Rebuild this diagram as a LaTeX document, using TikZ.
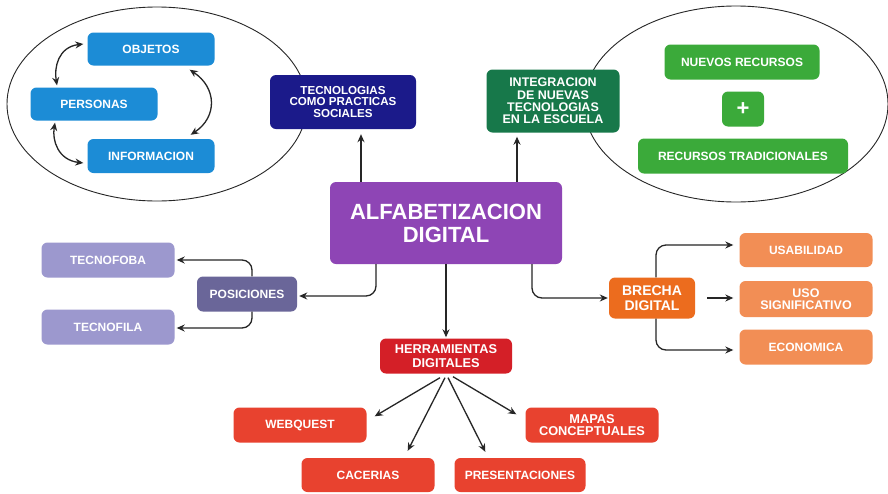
\documentclass[tikz,border=0pt]{standalone}
\usepackage{fontspec}
\setmainfont{Liberation Sans}
\usetikzlibrary{calc,arrows.meta}
\definecolor{cblue}{HTML}{1C8CD6}
\definecolor{cnavy}{HTML}{1B1A8A}
\definecolor{cdgreen}{HTML}{17784A}
\definecolor{cpurple}{HTML}{8E45B5}
\definecolor{cbgreen}{HTML}{3BAA3A}
\definecolor{clav}{HTML}{9C98CE}
\definecolor{cpos}{HTML}{6A6699}
\definecolor{corange}{HTML}{EC6C1E}
\definecolor{clorange}{HTML}{F28E55}
\definecolor{chred}{HTML}{D41F27}
\definecolor{cred}{HTML}{E8422F}
\begin{document}
\begin{tikzpicture}[x=1pt,y=-1pt,
  box/.style={rounded corners=6pt, text=white, align=center, inner sep=0pt,
    font=\bfseries\fontsize{12}{13}\selectfont, minimum width=133pt, minimum height=35pt},
  arr/.style={-{Stealth[length=8pt,width=7pt]}, line width=1.3pt, draw=black!85},
  darr/.style={{Stealth[length=8pt,width=7pt]}-{Stealth[length=8pt,width=7pt]}, line width=1.3pt, draw=black!85},
  oval/.style={draw=black!85, line width=0.9pt}
]
\useasboundingbox[fill=white] (0,0) rectangle (888,493);

% surrounding ovals
\draw[oval] (157,104) ellipse [x radius=150pt, y radius=97pt];
\draw[oval] (736,104) ellipse [x radius=152pt, y radius=98pt];

% left oval contents
\node[box, fill=cblue, minimum width=127pt, minimum height=33pt] (obj) at (151,49) {OBJETOS};
\node[box, fill=cblue, minimum width=127pt, minimum height=33pt] (pers) at (94,104) {PERSONAS};
\node[box, fill=cblue, minimum width=127pt, minimum height=34pt] (info) at (151,156) {INFORMACION};

\draw[darr] ($(obj.west)+(-4,-5)$) .. controls +(-25,3) and +(-3,-18) .. ($(pers.north)+(-37,-2)$);
\draw[darr] ($(pers.south)+(-39,2)$) .. controls +(-3,18) and +(-25,-3) .. ($(info.west)+(-4,7)$);
\draw[darr] ($(obj.south east)+(-25,4)$) .. controls +(27,18) and +(27,-18) .. ($(info.north east)+(-24,-4)$);

% right oval contents
\node[box, fill=cbgreen, minimum width=155pt] (nuevos) at (742,62) {NUEVOS RECURSOS};
\node[box, fill=cbgreen, minimum width=42pt, font=\bfseries\fontsize{22}{22}\selectfont] (plus) at (743,109) {+};
\node[box, fill=cbgreen, minimum width=210pt] (trad) at (743,156) {RECURSOS TRADICIONALES};

% upper branches
\node[box, fill=cnavy, minimum width=146pt, minimum height=54pt,
  font=\bfseries\fontsize{11.6}{11.8}\selectfont] (tecno) at (343,102) {TECNOLOGIAS\\COMO PRACTICAS\\SOCIALES};
\node[box, fill=cdgreen, minimum width=133pt, minimum height=63pt,
  font=\bfseries\fontsize{12.5}{12.4}\selectfont] (integ) at (553,101) {INTEGRACION\\DE NUEVAS\\TECNOLOGIAS\\EN LA ESCUELA};

% central concept
\node[box, fill=cpurple, minimum width=232pt, minimum height=82pt,
  font=\bfseries\fontsize{22}{23}\selectfont] (alf) at (446,223) {ALFABETIZACION\\DIGITAL};

\coordinate (ta) at ($(tecno.south)+(18,0)$);
\coordinate (ia) at ($(integ.south)+(-36,0)$);
\draw[arr, shorten >=5pt] (ta |- alf.north) -- (ta);
\draw[arr, shorten >=4pt] (ia |- alf.north) -- (ia);

% positions
\node[box, fill=clav] (fob) at (108,260) {TECNOFOBA};
\node[box, fill=clav] (fil) at (108,327) {TECNOFILA};
\node[box, fill=cpos, minimum width=100pt] (pos) at (247,294) {POSICIONES};

\coordinate (ap) at ($(alf.south)+(-70,0)$);
\draw[arr, rounded corners=10pt, shorten >=2pt] (ap) |- ($(pos.east)+(0,2)$);
\draw[arr, rounded corners=10pt, shorten >=2pt] ($(pos.north)+(5,0)$) |- (fob.east);
\draw[arr, rounded corners=10pt, shorten >=2pt] ($(pos.south)+(5,0)$) |- ($(fil.east)+(0,1)$);

% digital divide
\node[box, fill=corange, minimum width=86pt, minimum height=41pt,
  font=\bfseries\fontsize{14}{15}\selectfont] (brecha) at (652,298) {BRECHA\\DIGITAL};
\node[box, fill=clorange, minimum height=34pt] (usab) at (806,250) {USABILIDAD};
\node[box, fill=clorange, minimum height=36pt,
  font=\bfseries\fontsize{12.5}{11.7}\selectfont] (uso) at (806,299) {USO\\SIGNIFICATIVO};
\node[box, fill=clorange] (econ) at (806,347) {ECONOMICA};

\coordinate (ab) at ($(alf.south)+(86,0)$);
\draw[arr, rounded corners=10pt, shorten >=1pt] (ab) |- (brecha.west);
\draw[arr, rounded corners=10pt, shorten >=6pt] ($(brecha.north)+(4,0)$) |- ($(usab.west)+(0,-5)$);
\draw[arr, shorten <=12pt, shorten >=6pt] (brecha.east) -- (brecha.east -| uso.west);
\draw[arr, rounded corners=10pt, shorten >=6pt] ($(brecha.south)+(4,0)$) |- ($(econ.west)+(0,3)$);

% digital tools
\node[box, fill=chred, minimum width=132pt,
  font=\bfseries\fontsize{12.8}{13.3}\selectfont] (herr) at (446,356) {HERRAMIENTAS\\DIGITALES};
\node[box, fill=cred] (web) at (300,425) {WEBQUEST};
\node[box, fill=cred, minimum height=34pt] (cac) at (368,475) {CACERIAS};
\node[box, fill=cred, minimum width=131pt, minimum height=34pt] (pres) at (520,475) {PRESENTACIONES};
\node[box, fill=cred, font=\bfseries\fontsize{12.8}{11.5}\selectfont] (mapas) at (592,425) {MAPAS\\CONCEPTUALES};

\draw[arr, shorten >=1pt] (alf.south) -- (herr.north);
\draw[arr] ($(herr.south)+(-6,4)$) -- ($(web.north east)+(8,9)$);
\draw[arr] ($(herr.south)+(-1,4)$) -- ($(cac.north east)+(-27,-7)$);
\draw[arr] ($(herr.south)+(2,4)$) -- ($(pres.north west)+(31,-6)$);
\draw[arr] ($(herr.south)+(7,3)$) -- ($(mapas.north west)+(-9,7)$);
\end{tikzpicture}
\end{document}
